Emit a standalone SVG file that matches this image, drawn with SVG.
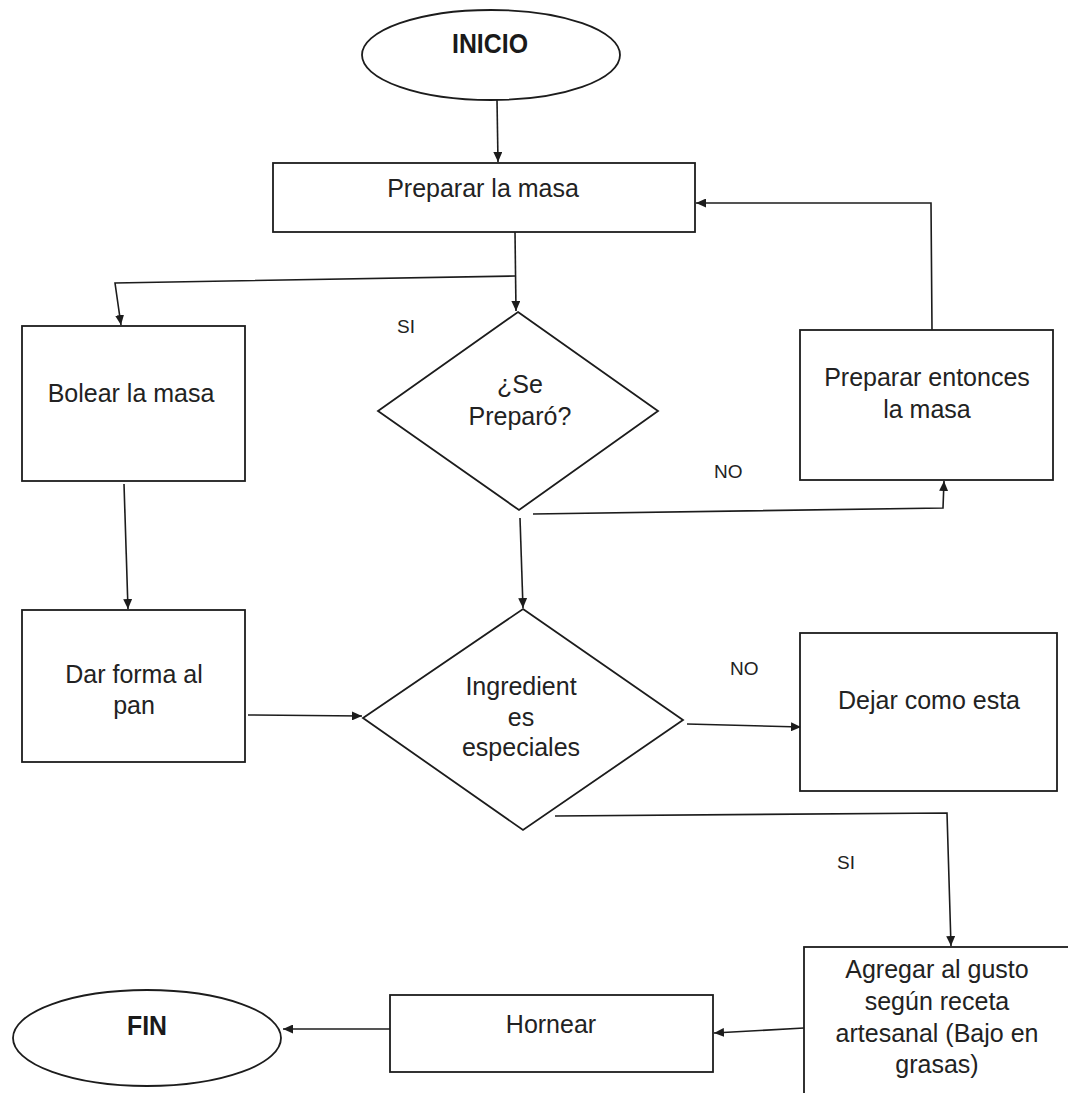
<svg xmlns="http://www.w3.org/2000/svg" width="1068" height="1093" viewBox="0 0 1068 1093">
  <style>
    .shape { fill: #ffffff; stroke: #1c1c1c; stroke-width: 1.8; }
    .link { fill: none; stroke: #1c1c1c; stroke-width: 1.6; }
    .txt { font-family: "Liberation Sans", Arial, sans-serif; font-size: 25px; fill: #222222; text-anchor: middle; }
    .term { font-family: "Liberation Sans", Arial, sans-serif; font-size: 27px; font-weight: bold; fill: #1a1a1a; text-anchor: middle; }
    .lbl { font-family: "Liberation Sans", Arial, sans-serif; font-size: 19px; fill: #222222; }
  </style>
  <defs>
    <marker id="arrow" markerUnits="userSpaceOnUse" markerWidth="11" markerHeight="9" refX="10" refY="4.5" orient="auto">
      <path d="M0,0 L10,4.5 L0,9 z" fill="#1c1c1c"/>
    </marker>
  </defs>
  <rect width="1068" height="1093" fill="#ffffff"/>

  <!-- connectors -->
  <g id="connectors">
    <path class="link" d="M497,100 L498,162" marker-end="url(#arrow)"/>
    <path class="link" d="M515,232 L516,311" marker-end="url(#arrow)"/>
    <path class="link" d="M515,276 L115,283 L121,325" marker-end="url(#arrow)"/>
    <path class="link" d="M124,484 L128,609" marker-end="url(#arrow)"/>
    <path class="link" d="M520,518 L523,608" marker-end="url(#arrow)"/>
    <path class="link" d="M533,514 L943,508 L944,481" marker-end="url(#arrow)"/>
    <path class="link" d="M932,330 L931,203 L696,203" marker-end="url(#arrow)"/>
    <path class="link" d="M248,715 L362,716" marker-end="url(#arrow)"/>
    <path class="link" d="M687,724 L801,727" marker-end="url(#arrow)"/>
    <path class="link" d="M555,816 L947,813 L951,946" marker-end="url(#arrow)"/>
    <path class="link" d="M804,1028 L714,1033" marker-end="url(#arrow)"/>
    <path class="link" d="M390,1029 L283,1029" marker-end="url(#arrow)"/>
  </g>

  <!-- branch labels -->
  <g id="labels">
    <text class="lbl" x="397" y="333">SI</text>
    <text class="lbl" x="714" y="478">NO</text>
    <text class="lbl" x="730" y="675">NO</text>
    <text class="lbl" x="837" y="869">SI</text>
  </g>

  <g id="inicio">
    <ellipse class="shape" cx="491" cy="55" rx="129" ry="45"/>
    <text class="term" x="490" y="53" textLength="76" lengthAdjust="spacingAndGlyphs">INICIO</text>
  </g>

  <g id="preparar-masa">
    <rect class="shape" x="273" y="163" width="422" height="69"/>
    <text class="txt" x="483" y="197">Preparar la masa</text>
  </g>

  <g id="bolear">
    <rect class="shape" x="22" y="326" width="223" height="155"/>
    <text class="txt" x="131" y="402">Bolear la masa</text>
  </g>

  <g id="se-preparo">
    <polygon class="shape" points="518,312 658,411 519,510 378,411"/>
    <text class="txt" x="520" y="393">¿Se</text>
    <text class="txt" x="520" y="425">Preparó?</text>
  </g>

  <g id="preparar-entonces">
    <rect class="shape" x="800" y="330" width="253" height="150"/>
    <text class="txt" x="927" y="386">Preparar entonces</text>
    <text class="txt" x="927" y="418">la masa</text>
  </g>

  <g id="dar-forma">
    <rect class="shape" x="22" y="610" width="223" height="152"/>
    <text class="txt" x="134" y="683">Dar forma al</text>
    <text class="txt" x="134" y="714">pan</text>
  </g>

  <g id="ingredientes">
    <polygon class="shape" points="523,609 683,720 523,830 363,718"/>
    <text class="txt" x="521" y="695">Ingredient</text>
    <text class="txt" x="521" y="726">es</text>
    <text class="txt" x="521" y="756">especiales</text>
  </g>

  <g id="dejar">
    <rect class="shape" x="800" y="633" width="257" height="158"/>
    <text class="txt" x="929" y="709">Dejar como esta</text>
  </g>

  <g id="agregar">
    <rect class="shape" x="804" y="947" width="300" height="200"/>
    <text class="txt" x="937" y="978">Agregar al gusto</text>
    <text class="txt" x="937" y="1010">según receta</text>
    <text class="txt" x="937" y="1042">artesanal (Bajo en</text>
    <text class="txt" x="937" y="1073">grasas)</text>
  </g>

  <g id="hornear">
    <rect class="shape" x="390" y="995" width="323" height="77"/>
    <text class="txt" x="551" y="1033">Hornear</text>
  </g>

  <g id="fin">
    <ellipse class="shape" cx="147" cy="1038" rx="134" ry="48"/>
    <text class="term" x="147" y="1035" textLength="40" lengthAdjust="spacingAndGlyphs">FIN</text>
  </g>
</svg>
